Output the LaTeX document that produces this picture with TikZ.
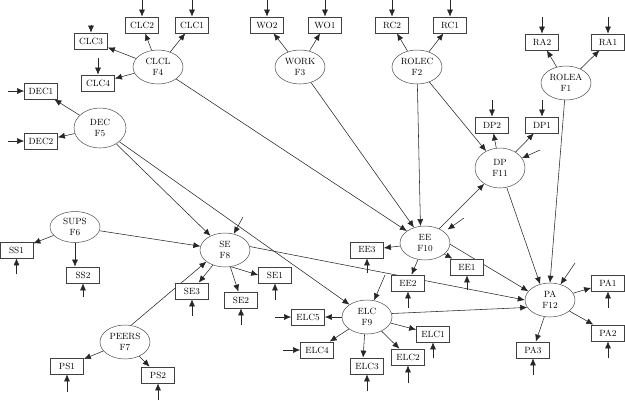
\documentclass[tikz,border=0pt]{standalone}
\usetikzlibrary{shapes.geometric,arrows.meta}
\pgfdeclarelayer{bg}
\pgfsetlayers{bg,main}
\tikzset{
 box/.style={draw=black!75, line width=0.75pt, fill=white, minimum width=33pt, minimum height=16pt, inner sep=0pt, font=\fontsize{9}{11}\selectfont},
 fac/.style={ellipse, draw=black!70, line width=0.5pt, fill=white, minimum width=50pt, minimum height=34pt, inner sep=0pt, align=center, font=\fontsize{9}{11}\selectfont},
 arr/.style={-{Latex[length=7pt,width=6pt]}, line width=0.55pt, draw=black!85},
}
\begin{document}
\begin{tikzpicture}[x=1pt,y=-1pt]
\useasboundingbox (0,0) rectangle (625,400);
% factors
\node[fac] (CLCL) at (158,67) {CLCL\\F4};
\node[fac] (DEC) at (100,128) [minimum width=52pt, minimum height=40pt] {DEC\\F5};
\node[fac] (WORK) at (300,67) {WORK\\F3};
\node[fac] (ROLEC) at (417,67) {ROLEC\\F2};
\node[fac] (ROLEA) at (566,83) {ROLEA\\F1};
\node[fac] (DP) at (500,168) [minimum height=40pt] {DP\\F11};
\node[fac] (SUPS) at (75,227) [minimum height=31pt] {SUPS\\F6};
\node[fac] (SE) at (225,250) {SE\\F8};
\node[fac] (EE) at (425,243) {EE\\F10};
\node[fac] (ELC) at (367,317) {ELC\\F9};
\node[fac] (PEERS) at (125,342) {PEERS\\F7};
\node[fac] (PA) at (550,300) {PA\\F12};
% indicators
\node[box] (CLC3) at (91,41) {CLC3};
\node[box] (CLC2) at (142,25) {CLC2};
\node[box] (CLC1) at (192,25) {CLC1};
\node[box] (CLC4) at (98,83) {CLC4};
\node[box] (DEC1) at (41,91) {DEC1};
\node[box] (DEC2) at (41,141) {DEC2};
\node[box] (WO2) at (267,25) {WO2};
\node[box] (WO1) at (325,25) {WO1};
\node[box] (RC2) at (392,25) {RC2};
\node[box] (RC1) at (450,25) {RC1};
\node[box] (RA2) at (542,42) {RA2};
\node[box] (RA1) at (608,42) {RA1};
\node[box] (DP2) at (492,125) {DP2};
\node[box] (DP1) at (542,125) {DP1};
\node[box] (SS1) at (16.5,250) {SS1};
\node[box] (SS2) at (83,275) {SS2};
\node[box] (SE1) at (275,275) {SE1};
\node[box] (SE3) at (192,291) {SE3};
\node[box] (SE2) at (241,300) {SE2};
\node[box] (EE3) at (367,250) {EE3};
\node[box] (EE1) at (467,267) {EE1};
\node[box] (EE2) at (408,283) {EE2};
\node[box] (ELC5) at (308,317) {ELC5};
\node[box] (ELC4) at (317,350) {ELC4};
\node[box] (ELC3) at (367,366) {ELC3};
\node[box] (ELC2) at (408,357) {ELC2};
\node[box] (ELC1) at (433,334) {ELC1};
\node[box] (PS1) at (67,366) {PS1};
\node[box] (PS2) at (158,375) {PS2};
\node[box] (PA1) at (608,283) {PA1};
\node[box] (PA2) at (608,333) {PA2};
\node[box] (PA3) at (533,350) {PA3};
\begin{pgfonlayer}{bg}
% factor to indicator
\foreach \f/\i in {CLCL/CLC1,CLCL/CLC2,CLCL/CLC3,CLCL/CLC4,DEC/DEC1,DEC/DEC2,WORK/WO1,WORK/WO2,ROLEC/RC1,ROLEC/RC2,ROLEA/RA1,ROLEA/RA2,DP/DP1,DP/DP2,SUPS/SS1,SE/SE3,SE/SE2,EE/EE3,EE/EE1,EE/EE2,ELC/ELC5,ELC/ELC4,ELC/ELC2,ELC/ELC1,PEERS/PS1,PEERS/PS2,PA/PA1,PA/PA2,PA/PA3}
  {\draw[arr] (\f) -- (\i);}
\draw[arr] (SUPS.south) -- (SUPS.south |- SS2.north);
\draw[arr] (SE.-70) -- (SE1.west);
\draw[arr] (ELC.-98) -- (ELC3.115);
% structural paths
\draw[arr] (CLCL) -- (EE);
\draw[arr] (WORK) -- (EE);
\draw[arr] (ROLEC) -- (EE.105);
\draw[arr] (ROLEC) -- (DP);
\draw[arr] (ROLEA) -- (PA.north);
\draw[arr] (DP) -- (PA.122);
\draw[arr] (EE) -- (DP);
\draw[arr] (EE.-3) -- (PA.158);
\draw[arr] (SE.8) -- (PA.west);
\draw[arr] (ELC.8) -- (PA.198);
\draw[arr] (DEC) -- (SE);
\draw[arr] (DEC) -- (ELC);
\draw[arr] (SUPS) -- (SE);
\draw[arr] (PEERS.70) -- (SE.212);
% external arrows
\foreach \n/\x/\y in {CLC2/142/0,CLC1/192/0,CLC3/91/25,CLC4/98/58,WO2/267/0,WO1/325/0,RC2/392/0,RC1/450/0,RA2/542/17,RA1/608/17,DP2/492/100,DP1/542/100,DEC1/8/91,DEC2/8/141,ELC5/275/317,ELC4/283/350,SS1/16.5/274,SS2/83/297,SE3/192/316,SE2/241/325,SE1/275/300,EE3/367/273,EE1/467/290,EE2/408/308,ELC3/367/391,ELC2/408/383,ELC1/433/358,PS1/67/392,PS2/158/400,PA1/608/308,PA2/608/358,PA3/533/375,SE/243/217,DP/540/150,PA/575/263,ELC/385/275}
  {\coordinate (e\n) at (\x,\y); \draw[arr] (e\n) -- (\n);}
\coordinate (eEE) at (464,218);
\draw[arr, shorten >=4pt] (eEE) -- (EE.30);
\end{pgfonlayer}
\end{tikzpicture}
\end{document}
